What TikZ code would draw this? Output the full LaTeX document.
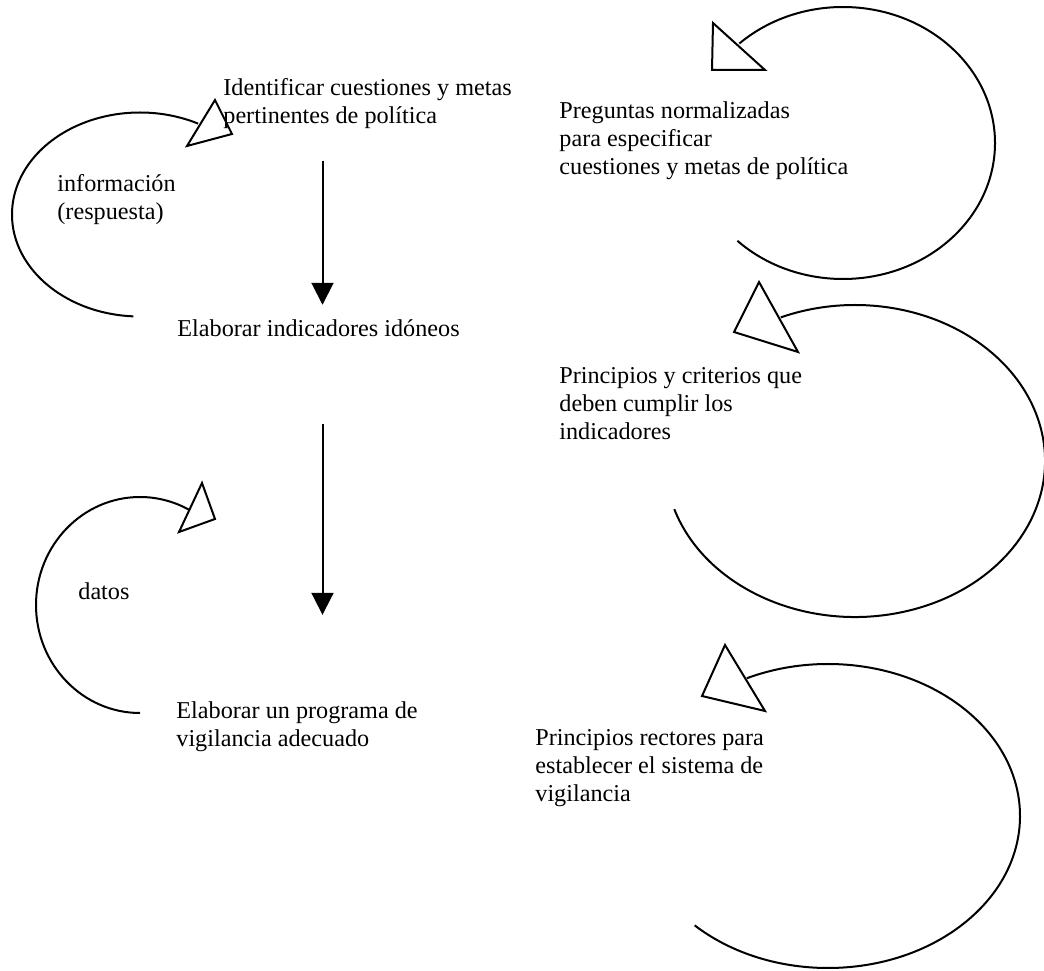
\documentclass[tikz,border=0pt]{standalone}
\usepackage{fontspec}
\setmainfont{Liberation Serif}
\usetikzlibrary{arrows.meta}
\usetikzlibrary{positioning}

\begin{document}
\begin{tikzpicture}[x=0.5pt,y=0.5pt,
	every node/.style={font=\fontsize{12.1pt}{14pt}\selectfont},
	txt/.style={anchor=base west,inner sep=0pt,align=left},
	flow/.style={-{Triangle[length=11pt,width=11pt]},line width=1pt},
	loopline/.style={line width=1pt},
	headtri/.style={draw,fill=white,line width=1pt}]
		\useasboundingbox (0,0) rectangle (1044,970);
		
		% draw loops on the left
		\draw[loopline] (140,755.5) ++(267:64pt and 51pt) arc[start angle=267,end angle=63,x radius=64pt,y radius=51pt];
		\draw[headtri] (215,870) -- (232,836) -- (187,824) -- cycle;
		
		\draw[loopline] (140,365) ++(270:52pt and 54pt) arc[start angle=270,end angle=62,x radius=52pt,y radius=54pt];
		\draw[headtri] (202,487) -- (215,451) -- (179,438) -- cycle;
		
		% draw loops on the right
		\draw[loopline] (843,827) ++(226:76pt and 68pt) arc[start angle=226,end angle=493,x radius=76pt,y radius=68pt];
		\draw[headtri] (713,947) -- (712,900) -- (765,900) -- cycle;
		
		\draw[loopline] (855,509) ++(198:95pt and 78pt) arc[start angle=198,end angle=473,x radius=95pt,y radius=78pt];
		\draw[headtri] (759,688) -- (798,618) -- (734,638) -- cycle;
		
		\draw[loopline] (828,154) ++(226:96pt and 76pt) arc[start angle=226,end angle=475,x radius=96pt,y radius=76pt];
		\draw[headtri] (725,325) -- (765,259) -- (702,274) -- cycle;
		
		% draw steps (base = last line)
		\node[txt] (ident) at (223,846) {Identificar cuestiones y metas\\pertinentes de política};
		\node[txt] (indic) at (177,633) {Elaborar indicadores idóneos};
		\node[txt] (prog) at (176,224) {Elaborar un programa de\\vigilancia adecuado};
		
		% draw side texts
		\node[txt] (info) at (57,750) {información\\(respuesta)};
		\node[txt] (datos) at (78,370) {datos};
		\node[txt] (pregs) at (559,795) {Preguntas normalizadas\\para especificar\\cuestiones y metas de política};
		\node[txt] (crit) at (559,530) {Principios y criterios que\\deben cumplir los\\indicadores};
		\node[txt] (rect) at (535,169) {Principios rectores para\\establecer el sistema de\\vigilancia};
		
		% draw arrows between steps
		\coordinate (col) at (322.5,0);
		\draw[flow,shorten <=15.5pt,shorten >=7.5pt] (ident.south -| col) -- (indic.north -| col);
		\draw[flow,shorten <=43pt,shorten >=43pt] (indic.south -| col) -- (prog.north -| col);
\end{tikzpicture}
\end{document}
